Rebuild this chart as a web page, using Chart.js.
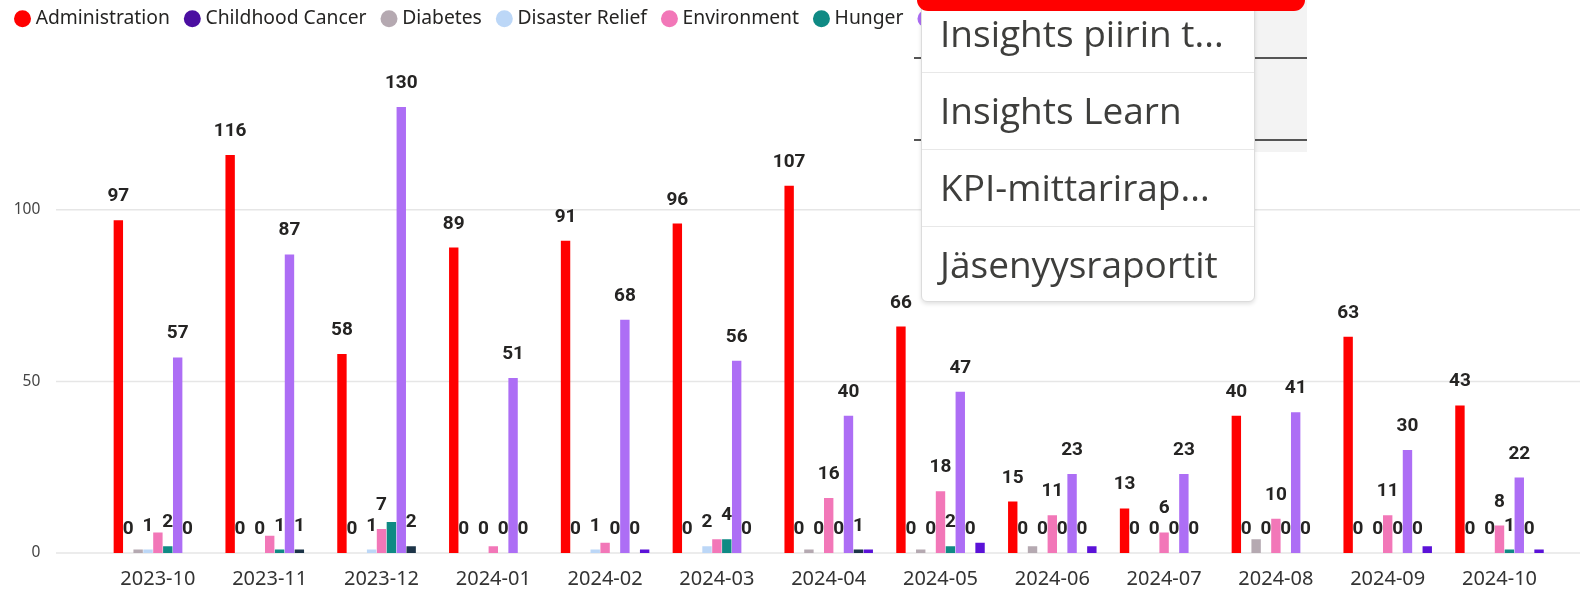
<!DOCTYPE html>
<html lang="en">
<head>
<meta charset="utf-8">
<title>Activities by month</title>
<script src="https://cdn.jsdelivr.net/npm/chart.js@4/dist/chart.umd.min.js"></script>
<style>
  body { margin: 0; background: #fff; }
  #frame { position: relative; width: 1580px; height: 591px; overflow: hidden; background: #fff; }
  #chart-box { position: absolute; left: 0; top: 0; width: 1580px; height: 591px; }
  /* page bits that sit over the chart in the screenshot */
  .panel { position: absolute; left: 921px; top: 0; width: 386px; height: 152px; background: #f3f3f3; }
  .rule { position: absolute; left: 914px; width: 393px; height: 2px; background: #555; }
  .menu { position: absolute; left: 921px; top: -5px; width: 334px; height: 307px; background: #fff;
          border: 1px solid #dcdcdc; border-radius: 0 0 6px 6px; box-sizing: border-box;
          box-shadow: 0 2px 4px rgba(0,0,0,0.12); }
  .menu div { height: 76px; line-height: 74px; padding-left: 18px; border-bottom: 1px solid #e8e8e8;
              font-family: 'Open Sans', sans-serif; font-size: 37px; color: #3e3e3c; white-space: nowrap; }
  .menu div:last-child { border-bottom: none; }
  .redbar { position: absolute; left: 917px; top: 0; width: 388px; height: 11px; background: #ff0000;
            border-radius: 0 0 14px 14px; }
</style>
</head>
<body>
<div id="frame">
  <div id="chart-box"><canvas id="myChart"></canvas></div>
  <div class="panel"></div>
  <div class="rule" style="top:57px"></div>
  <div class="rule" style="top:139px"></div>
  <div class="menu">
    <div>Insights piirin t...</div>
    <div>Insights Learn</div>
    <div>KPI-mittarirap...</div>
    <div>Jäsenyysraportit</div>
  </div>
  <div class="redbar"></div>
</div>

<script>
// ***** DATA *****

let months = ['2023-10', '2023-11', '2023-12', '2024-01', '2024-02', '2024-03', '2024-04',
  '2024-05', '2024-06', '2024-07', '2024-08', '2024-09', '2024-10'];

let causes = ['Administration', 'Childhood Cancer', 'Diabetes', 'Disaster Relief',
  'Environment', 'Hunger', 'Vision', 'Youth', 'Other'];

let administration = [97, 116, 58, 89, 91, 96, 107, 66, 15, 13, 40, 63, 43];
let childhoodCancer = [0, 0, 0, 0, 0, 0, 0, 0, 0, 0, 0, 0, 0];
let diabetes = [1, 0, 0, 0, 0, 0, 1, 1, 2, 0, 4, 0, 0];
let disasterRelief = [1, 0, 1, 0, 1, 2, 0, 0, 0, 0, 0, 0, 0];
let environment = [6, 5, 7, 2, 3, 4, 16, 18, 11, 6, 10, 11, 8];
let hunger = [2, 1, 9, 0, 0, 4, 0, 2, 0, 0, 0, 0, 1];
let vision = [57, 87, 130, 51, 68, 56, 40, 47, 23, 23, 41, 30, 22];
let youth = [0, 1, 2, 0, 0, 0, 1, 0, 0, 0, 0, 0, 0];
let other = [0, 0, 0, 0, 1, 0, 1, 3, 2, 0, 0, 2, 1];

let yTicks = [0, 50, 100];

let seriesValues = [administration, childhoodCancer, diabetes, disasterRelief,
  environment, hunger, vision, youth, other];

let seriesColors = ['#ff0000', '#4b0ea1', '#b5a9b1', '#bcd7f7', '#f277b8',
  '#0f8a84', '#ad6ef5', '#1c3448', '#5b12d8'];


// ***** PLUGINS *****

// gridlines run wider than the plot area, like the original visual
const wideGrid = {
  id: 'wideGrid',
  beforeDatasetsDraw(chart) {
    let ctx = chart.ctx;
    let yScale = chart.scales.y;
    ctx.save();
    ctx.strokeStyle = '#e6e6e6';
    ctx.lineWidth = 1.5;
    yTicks.forEach(function (v) {
      let py = yScale.getPixelForValue(v);
      ctx.beginPath();
      ctx.moveTo(56, py);
      ctx.lineTo(chart.width, py);
      ctx.stroke();
    });
    ctx.restore();
  }
};

// value labels above bars, skipping ones that would collide (left to right)
const barLabels = {
  id: 'barLabels',
  afterDatasetsDraw(chart) {
    let ctx = chart.ctx;
    let capH = 13.6;
    ctx.save();
    ctx.font = 'bold 19px "Liberation Sans Narrow", Roboto, sans-serif';
    ctx.fillStyle = '#252423';
    ctx.textAlign = 'center';
    ctx.textBaseline = 'alphabetic';
    for (let i = 0; i < months.length; i++) {
      let placed = [];
      chart.data.datasets.forEach(function (ds, d) {
        let bar = chart.getDatasetMeta(d).data[i];
        let text = String(ds.data[i]);
        let w = ctx.measureText(text).width;
        let base = bar.y - 19;
        let box = { l: bar.x - w / 2 - 1, r: bar.x + w / 2 + 1, t: base - capH - 2.5, b: base + 2.5 };
        let hit = placed.some(function (p) {
          return box.l < p.r && box.r > p.l && box.t < p.b && box.b > p.t;
        });
        if (hit) return;
        placed.push(box);
        ctx.fillText(text, bar.x, base);
      });
    }
    ctx.restore();
  }
};


// ***** CHART *****

const ctx = document.getElementById('myChart').getContext('2d');

let datasets = [];
for (let i = 0; i < causes.length; i++) {
  datasets.push({
    label: causes[i],
    data: seriesValues[i],
    backgroundColor: seriesColors[i],
    barPercentage: 0.95,
    categoryPercentage: 0.796
  });
}

Chart.defaults.font.family = "'Noto Sans', sans-serif";

new Chart(ctx, {
  type: 'bar',
  data: {
    labels: months,
    datasets: datasets
  },
  options: {
    responsive: true,
    maintainAspectRatio: false,
    animation: false,
    layout: {
      padding: { top: -10, left: 0, right: 24.6, bottom: 0 }
    },
    plugins: {
      tooltip: { enabled: false },
      legend: {
        align: 'start',
        labels: {
          usePointStyle: true,
          pointStyle: 'circle',
          boxWidth: 7,
          boxHeight: 12,
          padding: 19,
          color: '#252423',
          font: { size: 19.3 }
        }
      }
    },
    scales: {
      x: {
        offset: true,
        grid: { display: false, drawTicks: false },
        border: { display: false },
        ticks: {
          color: '#333',
          font: { size: 20 },
          padding: 14,
          maxRotation: 0,
          autoSkip: false
        },
        afterFit: function (scale) { scale.height = 38; }
      },
      y: {
        min: 0,
        max: 150,
        // tick length only pushes the labels away from the plot; nothing is drawn
        grid: { display: false, drawTicks: true, tickLength: 59 },
        border: { display: false },
        ticks: {
          color: '#444',
          font: { size: 15.5 },
          padding: 2.7
        },
        afterBuildTicks: function (scale) {
          scale.ticks = yTicks.map(function (v) { return { value: v }; });
        },
        afterFit: function (scale) { scale.width = 102; }
      }
    }
  },
  plugins: [wideGrid, barLabels]
});
</script>
</body>
</html>
